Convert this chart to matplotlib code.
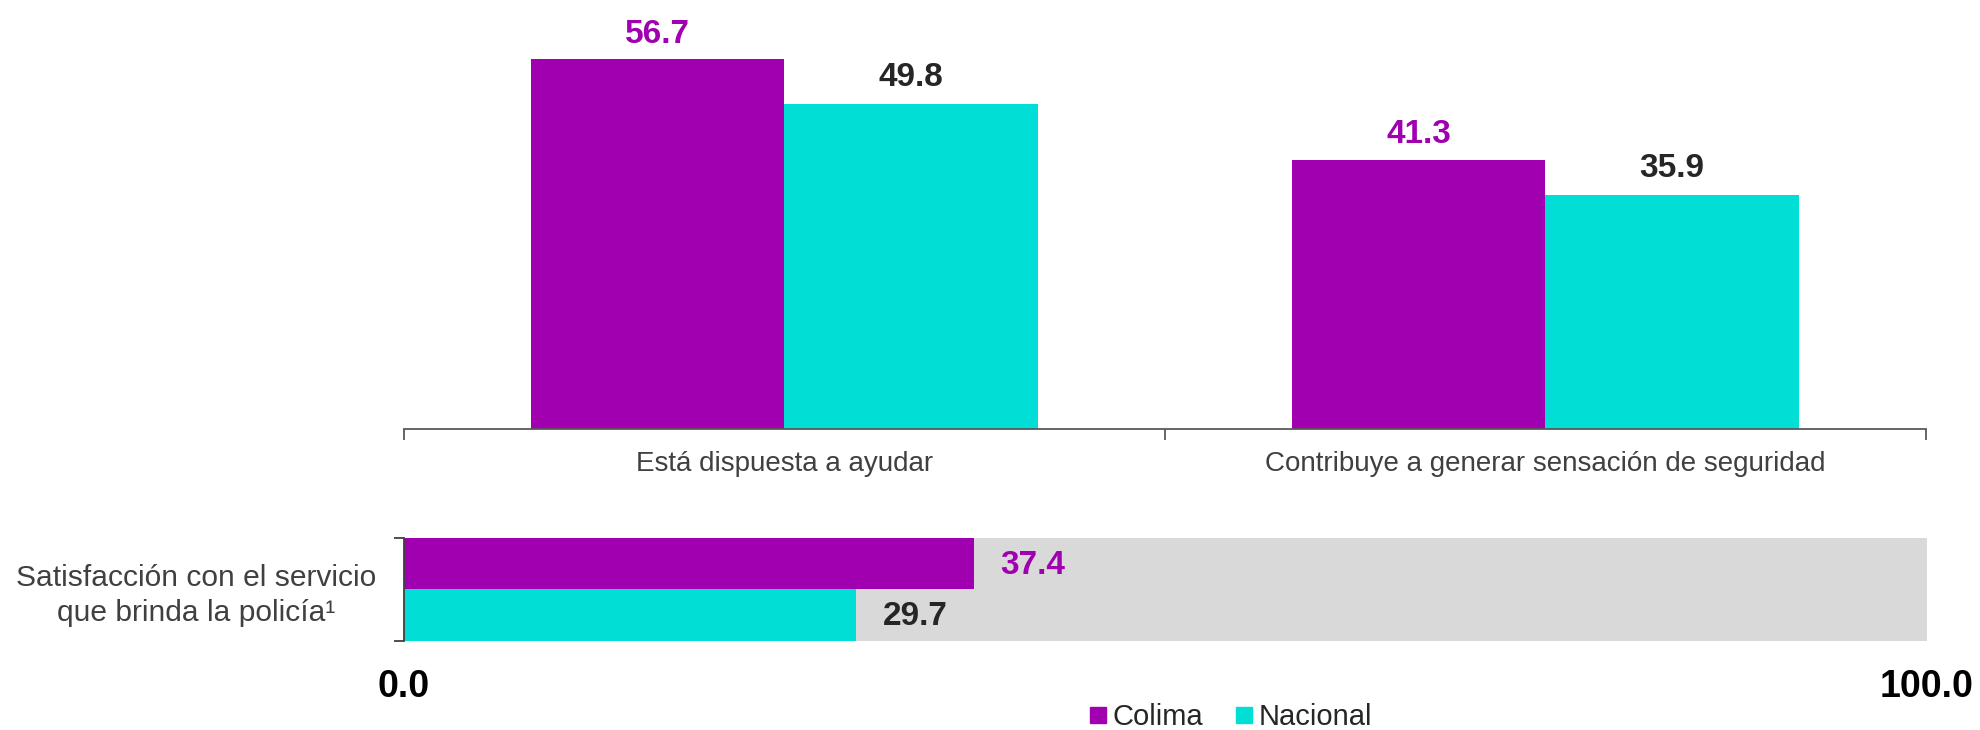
import matplotlib.pyplot as plt
from matplotlib.lines import Line2D
import numpy as np

plt.rcParams['font.family'] = ['Liberation Sans', 'DejaVu Sans']

# datos
categorias = ['Está dispuesta a ayudar', 'Contribuye a generar sensación de seguridad']
colima = [56.7, 41.3]
nacional = [49.8, 35.9]

cat_satisf = 'Satisfacción con el servicio\nque brinda la policía¹'
colima_satisf = 37.4
nacional_satisf = 29.7

series = ['Colima', 'Nacional']
c_col = '#A000B0'
c_nac = '#00DED6'
c_gris = '#D9D9D9'
c_txt = '#262626'
c_lab = '#404040'

fig = plt.figure(figsize=(19.8, 7.3), dpi=100)

##### barras verticales
ax = fig.add_axes([0.204, 0.412, 0.7687, 0.588])
x = np.arange(len(categorias))
w = 0.333
b1 = ax.bar(x - w/2, colima, w, color=c_col)
b2 = ax.bar(x + w/2, nacional, w, color=c_nac)
for r, v in zip(b1, colima):
    ax.annotate(f'{v:.1f}', (r.get_x() + r.get_width()/2, v), xytext=(0, 7),
                textcoords='offset points', ha='center', va='bottom',
                fontsize=24, fontweight='bold', color=c_col)
for r, v in zip(b2, nacional):
    ax.annotate(f'{v:.1f}', (r.get_x() + r.get_width()/2, v), xytext=(0, 8),
                textcoords='offset points', ha='center', va='bottom',
                fontsize=24, fontweight='bold', color=c_txt)

ax.set_xlim(-0.5, 1.5)
ax.set_ylim(0, 65.8)
for s in ['top', 'right', 'left']:
    ax.spines[s].set_visible(False)
ax.spines['bottom'].set_color('#595959')
ax.spines['bottom'].set_linewidth(1.3)
ax.set_yticks([])
ax.set_xticks(x)
ax.set_xticklabels(categorias, fontsize=20, color=c_lab)
ax.tick_params(axis='x', which='major', length=0, pad=16)
ax.set_xticks([-0.5, 0.5, 1.5], minor=True)
ax.tick_params(axis='x', which='minor', length=8, width=1.3, color='#595959')

##### barra horizontal
ax2 = fig.add_axes([0.204, 0.122, 0.7692, 0.141])
ax2.barh(0, 100, height=1.0, color=c_gris)
ax2.barh(0.25, colima_satisf, height=0.5, color=c_col)
ax2.barh(-0.25, nacional_satisf, height=0.5, color=c_nac)
ax2.annotate(f'{colima_satisf:.1f}', (colima_satisf, 0.25), xytext=(19, -1),
             textcoords='offset points', ha='left', va='center',
             fontsize=24, fontweight='bold', color=c_col)
ax2.annotate(f'{nacional_satisf:.1f}', (nacional_satisf, -0.25), xytext=(19, -1),
             textcoords='offset points', ha='left', va='center',
             fontsize=24, fontweight='bold', color=c_txt)
ax2.set_xlim(0, 100)
ax2.set_ylim(-0.5, 0.5)
for s in ['top', 'right', 'bottom']:
    ax2.spines[s].set_visible(False)
ax2.spines['left'].set_color('#404040')
ax2.spines['left'].set_linewidth(1.3)
ax2.set_xticks([0, 100])
ax2.set_xticklabels(['0.0', '100.0'], fontsize=27, fontweight='bold', color='black')
ax2.tick_params(axis='x', length=0, pad=20)
ax2.set_yticks([0])
ax2.set_yticklabels([cat_satisf], fontsize=21.6, color=c_lab, linespacing=1.3)
for t in ax2.get_yticklabels():
    t.set_multialignment('center')
ax2.tick_params(axis='y', which='major', length=0, pad=20)
ax2.set_yticks([-0.5, 0.5], minor=True)
ax2.tick_params(axis='y', which='minor', length=7, width=1.3, color='#404040')

##### leyenda
handles = [Line2D([], [], marker='s', linestyle='none', markersize=11, color=c_col),
           Line2D([], [], marker='s', linestyle='none', markersize=11, color=c_nac)]
fig.legend(handles, series, loc='center', bbox_to_anchor=(0.621, 0.018), ncol=2,
           frameon=False, fontsize=21, handletextpad=0.1, columnspacing=1.0,
           handlelength=0.8, labelcolor=c_txt)

fig.savefig('out.png', dpi=100)
